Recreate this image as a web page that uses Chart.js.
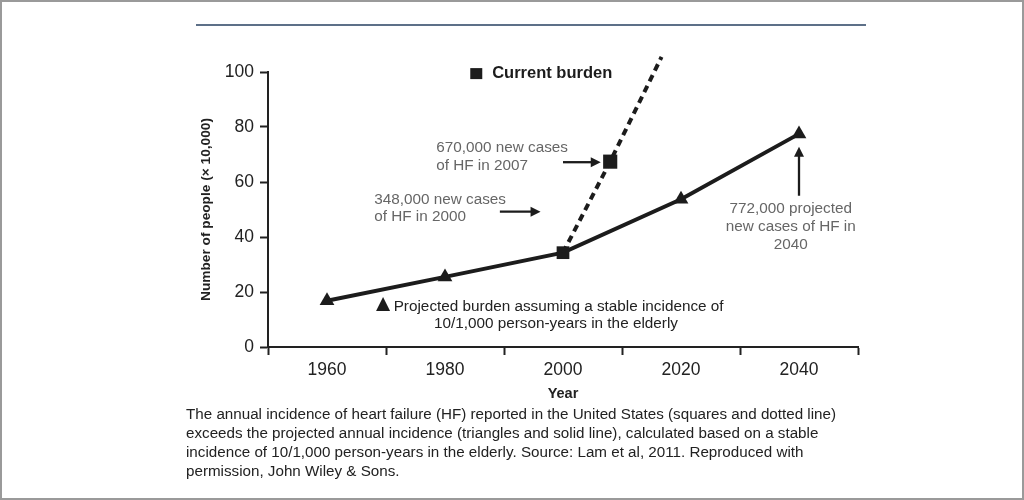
<!DOCTYPE html>
<html>
<head>
<meta charset="utf-8">
<script src="https://cdn.jsdelivr.net/npm/chart.js@4"></script>
<style>
  body { margin: 0; background: #fff; }
  #wrap { position: relative; width: 1024px; height: 500px; box-sizing: border-box; border: 2px solid #9a9a9a; overflow: hidden; }
  #topline { position: absolute; left: 194px; top: 22px; width: 670px; height: 2px; background: #5d7088; }
  #chartbox { position: absolute; left: -2px; top: -2px; width: 1024px; height: 500px; }
  #caption { position: absolute; left: 184px; top: 402px; width: 720px; font: 15.2px "Liberation Sans", Arial, sans-serif; line-height: 19px; color: #222; }
</style>
</head>
<body>
<div id="wrap">
  <div id="topline"></div>
  <div id="chartbox"><canvas id="chart-area"></canvas></div>
  <div id="caption">The annual incidence of heart failure (HF) reported in the United States (squares and dotted line)<br>exceeds the projected annual incidence (triangles and solid line), calculated based on a stable<br>incidence of 10/1,000 person-years in the elderly. Source: Lam et al, 2011. Reproduced with<br>permission, John Wiley &amp; Sons.</div>
</div>
<script>
// projected burden (triangles, solid line)
let projectedYears = [1960, 1980, 2000, 2020, 2040];
let projectedValues = [16.8, 25.5, 34.3, 53.7, 77.5];
let projectedStyles = ['triangle', 'triangle', 'rect', 'triangle', 'triangle'];

// current burden (squares, dotted line)
let currentYears = [2000, 2008, 2016.7];
let currentValues = [34.3, 67.4, 105.5];
let currentRadius = [0, 10, 0];

let yTicks = [0, 20, 40, 60, 80, 100];
let xLabels = [1960, 1980, 2000, 2020, 2040];

let ink = '#1c1c1c';
let grey = '#666';

let annotations = {
    id: 'annotations',
    afterDatasetsDraw: function(chart) {
        let ctx = chart.ctx;
        let xs = chart.scales.x, ys = chart.scales.y;
        let px = v => xs.getPixelForValue(v);
        let py = v => ys.getPixelForValue(v);

        function arrow(x1, y1, x2, y2) {
            let a = px(x1), b = py(y1), c = px(x2), d = py(y2);
            let ang = Math.atan2(d - b, c - a);
            ctx.save();
            ctx.strokeStyle = ink; ctx.fillStyle = ink; ctx.lineWidth = 2.3;
            ctx.beginPath();
            ctx.moveTo(a, b);
            ctx.lineTo(c - 7 * Math.cos(ang), d - 7 * Math.sin(ang));
            ctx.stroke();
            ctx.beginPath();
            ctx.moveTo(c, d);
            ctx.lineTo(c - 10 * Math.cos(ang) + 5 * Math.sin(ang), d - 10 * Math.sin(ang) - 5 * Math.cos(ang));
            ctx.lineTo(c - 10 * Math.cos(ang) - 5 * Math.sin(ang), d - 10 * Math.sin(ang) + 5 * Math.cos(ang));
            ctx.closePath();
            ctx.fill();
            ctx.restore();
        }
        function text(str, x, y, align, font, color) {
            ctx.save();
            ctx.font = font;
            ctx.fillStyle = color;
            ctx.textAlign = align;
            ctx.textBaseline = 'middle';
            ctx.fillText(str, px(x), py(y));
            ctx.restore();
        }

        let note = '15.3px "Liberation Sans", Arial, sans-serif';

        // current burden key
        ctx.fillStyle = ink;
        ctx.fillRect(px(1985.3) - 6, py(99.6) - 5, 12, 11);
        text('Current burden', 1988, 99.6, 'left', 'bold 16.5px "Liberation Sans", Arial, sans-serif', ink);

        // projected burden key
        ctx.beginPath();
        ctx.moveTo(px(1969.5), py(15.3) - 8);
        ctx.lineTo(px(1969.5) + 7, py(15.3) + 6);
        ctx.lineTo(px(1969.5) - 7, py(15.3) + 6);
        ctx.closePath();
        ctx.fill();
        text('Projected burden assuming a stable incidence of', 1971.3, 14.5, 'left', note, '#222');
        text('10/1,000 person-years in the elderly', 1998.8, 8.3, 'center', note, '#222');

        // notes
        text('670,000 new cases', 1978.5, 72.4, 'left', note, grey);
        text('of HF in 2007', 1978.5, 65.8, 'left', note, grey);
        arrow(2000, 67.2, 2006.4, 67.2);

        text('348,000 new cases', 1968, 53.6, 'left', note, grey);
        text('of HF in 2000', 1968, 47.3, 'left', note, grey);
        arrow(1989.3, 49.2, 1996.2, 49.2);

        text('772,000 projected', 2038.6, 50.4, 'center', note, grey);
        text('new cases of HF in', 2038.6, 43.8, 'center', note, grey);
        text('2040', 2038.6, 37.3, 'center', note, grey);
        arrow(2040, 55, 2040, 72.8);
    }
};

let config = {
    type: 'line',
    data: {
        datasets: [{
            label: 'Projected burden',
            data: projectedYears.map((x, i) => ({x: x, y: projectedValues[i]})),
            borderColor: ink,
            backgroundColor: ink,
            borderWidth: 4,
            pointStyle: projectedStyles,
            pointRadius: [8.5, 8.5, 9, 8.5, 8.5],
            pointBorderWidth: 0,
            clip: false,
            order: 2
        }, {
            label: 'Current burden',
            data: currentYears.map((x, i) => ({x: x, y: currentValues[i]})),
            borderColor: ink,
            backgroundColor: ink,
            borderWidth: 4,
            borderDash: [7, 5],
            pointStyle: 'rect',
            pointRadius: currentRadius,
            pointBorderWidth: 0,
            clip: false,
            order: 1
        }]
    },
    options: {
        responsive: true,
        maintainAspectRatio: false,
        animation: false,
        layout: {padding: {left: 194, right: 166, top: 72, bottom: 93}},
        plugins: {legend: {display: false}, tooltip: {enabled: false}},
        scales: {
            x: {
                type: 'linear',
                min: 1950,
                max: 2050,
                afterFit: s => { s.height = 60; },
                ticks: {
                    stepSize: 10,
                    autoSkip: false,
                    maxRotation: 0,
                    padding: 5,
                    color: '#222',
                    font: {size: 17.5},
                    callback: v => xLabels.includes(v) ? String(v) : ''
                },
                grid: {
                    drawOnChartArea: false,
                    tickLength: 8,
                    tickWidth: 2,
                    tickColor: c => (c.tick && xLabels.includes(c.tick.value)) ? 'rgba(0,0,0,0)' : '#222'
                },
                border: {color: '#222', width: 2},
                title: {display: true, text: 'Year', color: '#222', font: {size: 14.5, weight: 'bold'}, padding: {top: 2, bottom: 4}}
            },
            y: {
                min: 0,
                max: 100,
                afterFit: s => { s.width = 74; },
                afterBuildTicks: s => { s.ticks = yTicks.map(v => ({value: v})); },
                ticks: {padding: 6, color: '#222', font: {size: 17.5}},
                grid: {drawOnChartArea: false, tickLength: 8, tickWidth: 2, tickColor: '#222'},
                border: {color: '#222', width: 2},
                title: {display: true, text: 'Number of people (× 10,000)', color: '#222', font: {size: 13.7, weight: 'bold'}, padding: 4}
            }
        }
    },
    plugins: [annotations]
};

Chart.defaults.font.family = '"Liberation Sans", Arial, sans-serif';
let ctx2 = document.getElementById('chart-area').getContext('2d');
window.myChart = new Chart(ctx2, config);
</script>
</body>
</html>
